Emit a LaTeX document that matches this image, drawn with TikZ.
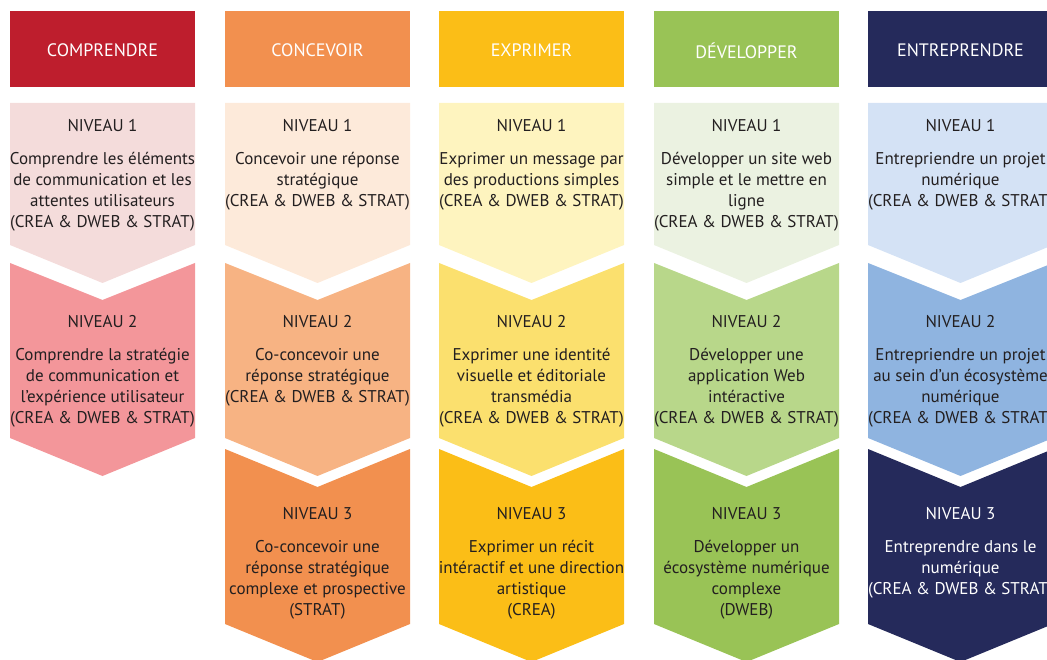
\documentclass[tikz,border=0pt]{standalone}
\usepackage{fontspec}
\setmainfont{PT Sans}
\usetikzlibrary{positioning}

% Colours per column (header, level 1, level 2; level 3 = header)
\definecolor{compHead}{HTML}{BE1E2D}
\definecolor{compOne}{HTML}{F4DCDB}
\definecolor{compTwo}{HTML}{F3969A}
\definecolor{concHead}{HTML}{F2904F}
\definecolor{concOne}{HTML}{FDEADA}
\definecolor{concTwo}{HTML}{F7B383}
\definecolor{exprHead}{HTML}{FBBE17}
\definecolor{exprOne}{HTML}{FEF4BF}
\definecolor{exprTwo}{HTML}{FBE06E}
\definecolor{devHead}{HTML}{99C356}
\definecolor{devOne}{HTML}{EBF2E1}
\definecolor{devTwo}{HTML}{B8D78A}
\definecolor{entrHead}{HTML}{252A5B}
\definecolor{entrOne}{HTML}{D4E2F5}
\definecolor{entrTwo}{HTML}{8FB4E0}
\definecolor{ink}{HTML}{231F20}

\tikzset{
	head/.style={font=\fontsize{18}{20.8}\selectfont, text=white, inner sep=0pt},
	level/.style={font=\fontsize{17}{20.8}\selectfont, text=ink, inner sep=0pt},
	body/.style={font=\fontsize{17}{20.8}\selectfont, text=ink, align=center, inner sep=0pt, below=17.5pt of #1}
}

\begin{document}
\begin{tikzpicture}[x=1pt,y=-1pt]
			\useasboundingbox (0,0) rectangle (1047,660);
			\clip (0,0) rectangle (1047,660);

			% Headers
			\fill[compHead] (10,11) rectangle ++(185,76);
			\fill[concHead] (225,11) rectangle ++(185,76);
			\fill[exprHead] (439,11) rectangle ++(185,76);
			\fill[devHead] (654,11) rectangle ++(185,76);
			\fill[entrHead] (868,11) rectangle ++(185,76);

			% Level 1 chevrons
			\fill[compOne] (10,103) -- ++(185,0) -- ++(0,142) -- ++(-92.5,38) -- ++(-92.5,-38) -- cycle;
			\fill[concOne] (225,103) -- ++(185,0) -- ++(0,142) -- ++(-92.5,38) -- ++(-92.5,-38) -- cycle;
			\fill[exprOne] (439,103) -- ++(185,0) -- ++(0,142) -- ++(-92.5,38) -- ++(-92.5,-38) -- cycle;
			\fill[devOne] (654,103) -- ++(185,0) -- ++(0,142) -- ++(-92.5,38) -- ++(-92.5,-38) -- cycle;
			\fill[entrOne] (868,103) -- ++(185,0) -- ++(0,142) -- ++(-92.5,38) -- ++(-92.5,-38) -- cycle;

			% Level 2 chevrons
			\fill[compTwo] (10,263) -- ++(92.5,37) -- ++(92.5,-37) -- ++(0,175) -- ++(-92.5,38) -- ++(-92.5,-38) -- cycle;
			\fill[concTwo] (225,263) -- ++(92.5,37) -- ++(92.5,-37) -- ++(0,175) -- ++(-92.5,38) -- ++(-92.5,-38) -- cycle;
			\fill[exprTwo] (439,263) -- ++(92.5,37) -- ++(92.5,-37) -- ++(0,175) -- ++(-92.5,38) -- ++(-92.5,-38) -- cycle;
			\fill[devTwo] (654,263) -- ++(92.5,37) -- ++(92.5,-37) -- ++(0,175) -- ++(-92.5,38) -- ++(-92.5,-38) -- cycle;
			\fill[entrTwo] (868,263) -- ++(92.5,37) -- ++(92.5,-37) -- ++(0,175) -- ++(-92.5,38) -- ++(-92.5,-38) -- cycle;

			% Level 3 chevrons
			\fill[concHead] (225,449) -- ++(92.5,38) -- ++(92.5,-38) -- ++(0,175) -- ++(-92.5,38) -- ++(-92.5,-38) -- cycle;
			\fill[exprHead] (439,449) -- ++(92.5,38) -- ++(92.5,-38) -- ++(0,175) -- ++(-92.5,38) -- ++(-92.5,-38) -- cycle;
			\fill[devHead] (654,449) -- ++(92.5,38) -- ++(92.5,-38) -- ++(0,175) -- ++(-92.5,38) -- ++(-92.5,-38) -- cycle;
			\fill[entrHead] (868,449) -- ++(92.5,38) -- ++(92.5,-38) -- ++(0,175) -- ++(-92.5,38) -- ++(-92.5,-38) -- cycle;

			% Header labels
			\node[head] (comp-h) at (102.5,50.5) {COMPRENDRE};
			\node[head] (conc-h) at (317.5,50.5) {CONCEVOIR};
			\node[head] (expr-h) at (531.5,50.5) {EXPRIMER};
			\node[head] (dev-h) at (746.5,50.5) {DÉVELOPPER};
			\node[head] (entr-h) at (960.5,50.5) {ENTREPRENDRE};

			% Comprendre
			\node[level] (comp-n1) at (102.5,126) {NIVEAU 1};
			\node[body=comp-n1] (comp-t1) {\strut Comprendre les éléments\\de communication et les\\attentes utilisateurs\\(CREA \& DWEB \& STRAT)};
			\node[level] (comp-n2) at (102.5,322) {NIVEAU 2};
			\node[body=comp-n2] (comp-t2) {\strut Comprendre la stratégie\\de communication et\\l’expérience utilisateur\\(CREA \& DWEB \& STRAT)};

			% Concevoir
			\node[level] (conc-n1) at (317.5,126) {NIVEAU 1};
			\node[body=conc-n1] (conc-t1) {\strut Concevoir une réponse\\stratégique\\(CREA \& DWEB \& STRAT)};
			\node[level] (conc-n2) at (317.5,322) {NIVEAU 2};
			\node[body=conc-n2] (conc-t2) {\strut Co-concevoir une\\réponse stratégique\\(CREA \& DWEB \& STRAT)};
			\node[level] (conc-n3) at (317.5,514) {NIVEAU 3};
			\node[body=conc-n3] (conc-t3) {\strut Co-concevoir une\\réponse stratégique\\complexe et prospective\\(STRAT)};

			% Exprimer
			\node[level] (expr-n1) at (531.5,126) {NIVEAU 1};
			\node[body=expr-n1] (expr-t1) {\strut Exprimer un message par\\des productions simples\\(CREA \& DWEB \& STRAT)};
			\node[level] (expr-n2) at (531.5,322) {NIVEAU 2};
			\node[body=expr-n2] (expr-t2) {\strut Exprimer une identité\\visuelle et éditoriale\\transmédia\\(CREA \& DWEB \& STRAT)};
			\node[level] (expr-n3) at (531.5,514) {NIVEAU 3};
			\node[body=expr-n3] (expr-t3) {\strut Exprimer un récit\\intéractif et une direction\\artistique\\(CREA)};

			% Developper
			\node[level] (dev-n1) at (746.5,126) {NIVEAU 1};
			\node[body=dev-n1] (dev-t1) {\strut Développer un site web\\simple et le mettre en\\ligne\\(CREA \& DWEB \& STRAT)};
			\node[level] (dev-n2) at (746.5,322) {NIVEAU 2};
			\node[body=dev-n2] (dev-t2) {\strut Développer une\\application Web\\intéractive\\(CREA \& DWEB \& STRAT)};
			\node[level] (dev-n3) at (746.5,514) {NIVEAU 3};
			\node[body=dev-n3] (dev-t3) {\strut Développer un\\écosystème numérique\\complexe\\(DWEB)};

			% Entreprendre
			\node[level] (entr-n1) at (960.5,126) {NIVEAU 1};
			\node[body=entr-n1] (entr-t1) {\strut Entrepriendre un projet\\numérique\\(CREA \& DWEB \& STRAT)};
			\node[level] (entr-n2) at (960.5,322) {NIVEAU 2};
			\node[body=entr-n2] (entr-t2) {\strut Entrepriendre un projet\\au sein d’un écosystème\\numérique\\(CREA \& DWEB \& STRAT)};
			\node[level, text=white] (entr-n3) at (960.5,514) {NIVEAU 3};
			\node[body=entr-n3, text=white] (entr-t3) {\strut Entreprendre dans le\\numérique\\(CREA \& DWEB \& STRAT)};
		\end{tikzpicture}
\end{document}
